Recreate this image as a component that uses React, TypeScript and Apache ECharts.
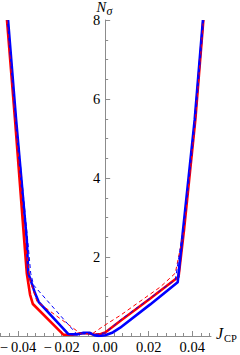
import React, { useEffect, useRef } from "react";
import * as echarts from "echarts";

// ---- data ----
const redSolid: [number, number][] = [
  [-0.0451, 8], [-0.0414, 5.47], [-0.0372, 2.43], [-0.036, 1.59], [-0.0345, 1.05], [-0.0332, 0.81],
  [-0.0191, 0.03], [-0.015, 0.03], [-0.011, 0.07], [-0.0075, 0.07], [-0.005, 0.03], [-0.002, 0.05],
  [0.0, 0.09], [0.0069, 0.38], [0.0207, 0.95], [0.0337, 1.5], [0.0362, 2.68], [0.0414, 5.47], [0.0451, 8],
];
const blueSolid: [number, number][] = [
  [-0.0446, 8], [-0.0409, 5.47], [-0.036, 2.43], [-0.0353, 1.59], [-0.0322, 1.08], [-0.0305, 0.86],
  [-0.0169, 0.05], [-0.013, 0.04], [-0.01, 0.08], [-0.007, 0.08], [-0.005, 0.02], [-0.003, 0.0],
  [0.0, 0.02], [0.0035, 0.09], [0.0069, 0.21], [0.0207, 0.8], [0.0333, 1.36], [0.0356, 2.6], [0.0411, 5.47], [0.0449, 8],
];
const redDashed: [number, number][] = [
  [-0.0449, 8], [-0.0411, 5.47], [-0.0368, 2.43], [-0.0345, 1.4], [-0.0313, 0.87], [-0.0115, 0.07],
  [-0.0061, 0.05], [0.0, 0.28], [0.0069, 0.52], [0.0253, 1.24], [0.0322, 1.59], [0.0362, 2.68],
  [0.0414, 5.47], [0.0451, 8],
];
const blueDashed: [number, number][] = [
  [-0.0446, 8], [-0.0409, 5.47], [-0.0356, 2.43], [-0.0342, 1.59], [-0.0329, 1.29], [-0.0131, 0.05],
  [-0.008, 0.06], [-0.004, 0.04], [0.0, 0.08], [0.0069, 0.4], [0.0268, 1.21], [0.0322, 1.42],
  [0.0356, 2.6], [0.0411, 5.47], [0.0449, 8],
];
const xMajorTicks = [-0.04, -0.02, 0, 0.02, 0.04];
const xMinorTicks = [
  -0.048, -0.044, -0.036, -0.032, -0.028, -0.024, -0.016, -0.012, -0.008, -0.004,
  0.004, 0.008, 0.012, 0.016, 0.024, 0.028, 0.032, 0.036, 0.044, 0.048,
];
const xMin = -0.0483;
const xMax = 0.0486;
const yMin = 0;
const yMax = 8;

const FONT = "'Liberation Serif', 'DejaVu Serif', serif";
const AXIS_COLOR = "#8c8c8c";
const W = 240;
const H = 355;
const GRID_LEFT = 0;
const GRID_RIGHT = 29;

export default function App() {
  const ref = useRef<HTMLDivElement>(null);
  useEffect(() => {
    if (!ref.current) return;
    const chart = echarts.init(ref.current, undefined, { renderer: "svg" });
    const fmtX = (v: number) => {
      const s = Math.abs(v).toFixed(2);
      return v < -1e-9 ? "\u2212\u2009" + s : s;
    };
    // put the y axis at x = 0 of the data range
    const gridW = W - GRID_LEFT - GRID_RIGHT;
    const zeroOffset = (gridW * (0 - xMin)) / (xMax - xMin);
    chart.setOption({
      animation: false,
      backgroundColor: "#ffffff",
      grid: { left: GRID_LEFT, right: GRID_RIGHT, top: 20, bottom: 19, containLabel: false, outerBoundsMode: "none" },
      graphic: [
        {
          type: "text",
          x: 96.5,
          y: 6.5,
          style: { text: "N", font: `italic 14.5px ${FONT}`, fill: "#000", lineHeight: 13, align: "left", verticalAlign: "middle" },
        },
        {
          type: "text",
          x: 106.5,
          y: 10.5,
          style: { text: "\u03c3", font: `italic 12px ${FONT}`, fill: "#000", lineHeight: 11, align: "left", verticalAlign: "middle" },
        },
        {
          type: "text",
          x: 216,
          y: 333,
          style: { text: "J", font: `italic 16px ${FONT}`, fill: "#000", align: "left", verticalAlign: "middle" },
        },
        {
          type: "text",
          x: 224,
          y: 338,
          style: { text: "CP", font: `10.5px ${FONT}`, fill: "#000", align: "left", verticalAlign: "middle" },
        },
      ],
      xAxis: [
        {
          type: "value",
          min: xMin,
          max: xMax,
          position: "bottom",
          axisLine: { onZero: false, lineStyle: { color: AXIS_COLOR, width: 1 } },
          axisTick: { inside: true, length: 5, customValues: xMajorTicks, lineStyle: { color: AXIS_COLOR } },
          axisLabel: {
            customValues: xMajorTicks,
            formatter: fmtX,
            fontFamily: FONT,
            fontSize: 14.5,
            color: "#000",
            margin: 3,
          },
          splitLine: { show: false },
        },
        {
          type: "value",
          min: xMin,
          max: xMax,
          position: "bottom",
          axisLine: { show: false, onZero: false },
          axisTick: { inside: true, length: 3, customValues: xMinorTicks, lineStyle: { color: AXIS_COLOR } },
          axisLabel: { show: false },
          splitLine: { show: false },
        },
      ],
      yAxis: {
        type: "value",
        min: yMin,
        max: yMax,
        interval: 2,
        position: "left",
        offset: -zeroOffset,
        axisLine: { onZero: false, lineStyle: { color: AXIS_COLOR, width: 1 } },
        axisTick: { inside: true, length: 5, lineStyle: { color: AXIS_COLOR } },
        minorTick: { show: true, splitNumber: 4, length: 3, lineStyle: { color: AXIS_COLOR } },
        axisLabel: {
          formatter: (v: number) => (v === 0 ? "" : String(v)),
          fontFamily: FONT,
          fontSize: 14.5,
          lineHeight: 12,
          color: "#000",
          margin: 5,
        },
        splitLine: { show: false },
        minorSplitLine: { show: false },
      },
      series: [
        {
          type: "line",
          data: redSolid,
          showSymbol: false,
          lineStyle: { color: "#ff0000", width: 2.6 },
          z: 2,
        },
        {
          type: "line",
          data: blueSolid,
          showSymbol: false,
          lineStyle: { color: "#0000ff", width: 2.6 },
          z: 3,
        },
        {
          type: "line",
          data: redDashed,
          showSymbol: false,
          lineStyle: { color: "#ff0000", width: 1, type: [4, 3] },
          z: 4,
        },
        {
          type: "line",
          data: blueDashed,
          showSymbol: false,
          lineStyle: { color: "#0000ff", width: 1, type: [4, 3] },
          z: 4,
        },
      ],
    });
    return () => chart.dispose();
  }, []);
  return (
    <div
      ref={ref}
      style={{ position: "fixed", left: 0, top: 0, width: W, height: H, background: "#fff" }}
    />
  );
}
